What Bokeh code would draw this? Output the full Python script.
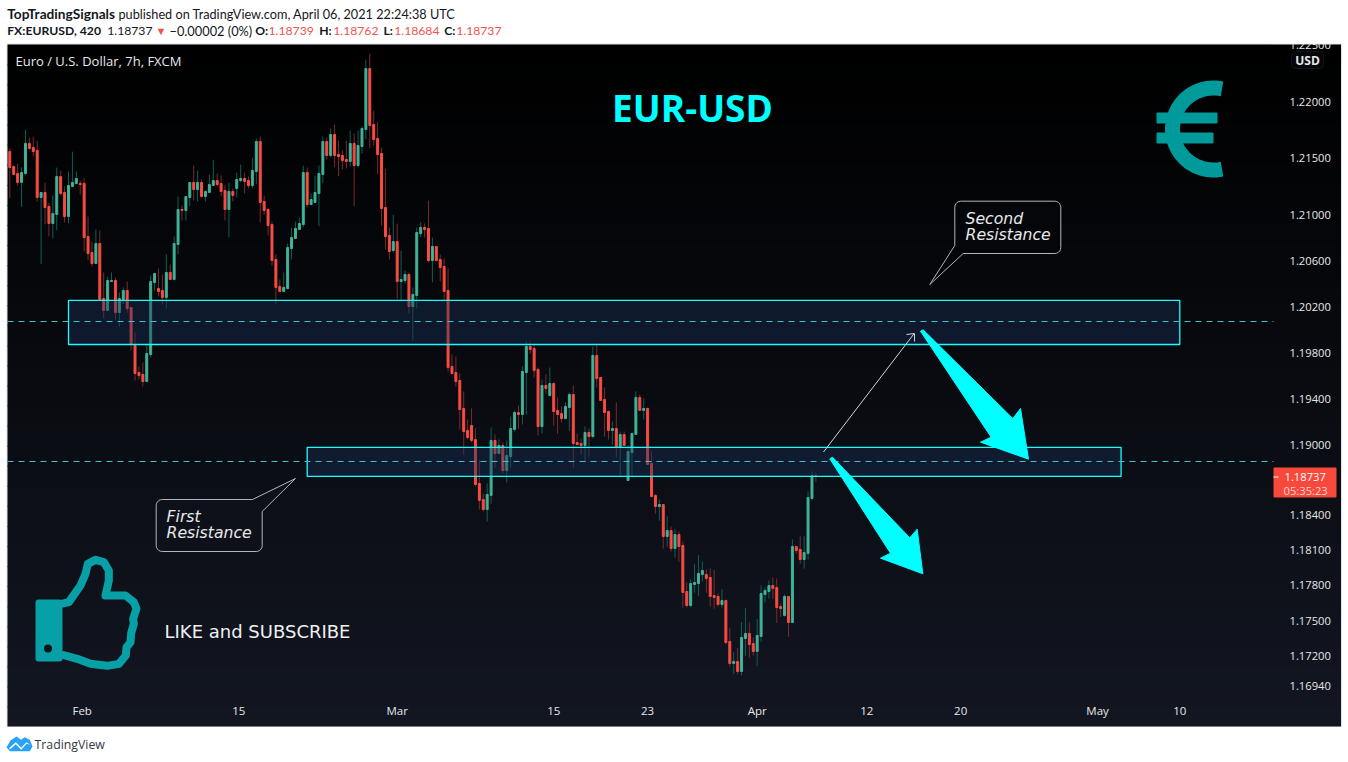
import numpy as np
from bokeh.plotting import figure
from bokeh.embed import file_html
from bokeh.resources import INLINE
from bokeh.models import (Range1d, LinearScale, FixedTicker, NumeralTickFormatter, Label, BoxAnnotation,
                          PolyAnnotation, ColumnDataSource)

# EUR/USD 7h candles; prices in points above 1.00000 (21559 = 1.21559)
opens = [21559,21427,21366,21287,21366,21630,21594,21568,21155,21199,21076,20927,21006,21339,21199,20988,21251,21278,21278,21278,20813,20673,20577,20752,20272,20168,20420,20429,20150,20263,20342,20194,19863,19629,19612,19551,19785,20411,20359,20342,20281,20499,20438,20743,21050,21041,21155,21287,21225,
 21287,21164,21199,21260,21304,21278,21217,21050,21208,21234,21304,21322,21304,
 21260,21383,21647,21120,21050,20918,20612,20377,20333,20359,20708,20796,20874,20918,21374,21093,21111,21190,21357,21647,21524,21709,21533,21524,21489,21471,21630,21436,21603,21753,22292,21797,21674,21541,21067,20822,20691,20769,20420,20429,20481,20202,20298,20839,20892,20883,20603,20726,20612,20551,20342,19681,19629,19560,19318,19128,19171,19050,18672,18534,18448,18569,19042,18930,18999,18783,18904,19137,19283,19266,19629,19855,19837,19655,19162,19517,19430,19534,19301,19275,19231,19326,19439,19024,19016,18999,19111,19076,19777,19586,19396,19292,19128,19145,18981,19093,18697,18938,19093,19413,19301,19318,18844,18569,18474,18491,18217,18268,18114,18234,18140,17747,17628,17807,17815,17892,17892,17867,17713,17705,17636,17670,17322,17135,17152,17067,17347,17390,17305,17237,17364,17722,17747,17798,17781,17619,17543,17705,17483,18131,18106,18020,18072,18543,18739]
closes = [21418,21357,21287,21374,21630,21585,21559,21155,21199,21067,20927,21015,21339,21190,20988,21260,21287,21322,21269,20804,20665,20577,20752,20263,20168,20429,20429,20150,20272,20342,20185,19872,19621,19603,19551,19794,20420,20490,20333,20281,20499,20438,20752,21050,21041,21164,21287,21225,21287,
 21164,21208,21269,21304,21269,21208,21050,21208,21173,21313,21322,21296,21260,
 21392,21647,21111,21041,20909,20603,20368,20333,20368,20717,20804,20883,20927,21374,21093,21137,21199,21366,21647,21524,21709,21524,21515,21480,21471,21630,21436,21612,21762,22292,21788,21665,21533,21058,20813,20682,20769,20420,20438,20481,20202,20307,20848,20892,20874,20603,20726,20603,20542,20333,19673,19621,19551,19309,19119,19068,19042,18663,18526,18448,18577,19042,18930,18999,18783,18912,19145,19283,19266,19638,19855,19829,19647,19162,19517,19491,19534,19292,19266,19231,19335,19439,19016,19007,18999,19111,19076,19777,19577,19387,19283,19128,19145,18981,19093,18999,18947,19102,19413,19301,19318,18835,18560,18474,18491,18217,18268,18114,18234,18131,17739,17628,17815,17824,17901,17926,17858,17705,17696,17636,17670,17313,17135,17152,17067,17356,17390,17296,17237,17373,17730,17756,17798,17773,17611,17602,17705,17483,18131,18097,18020,18080,18551,18740,18737]
wick_up = [29,9,87,46,122,52,96,87,0,87,32,157,78,52,52,122,270,61,26,44,174,96,122,113,226,35,70,26,52,26,78,0,113,52,104,78,52,0,174,139,157,70,61,113,35,0,0,148,104,
 26,9,87,183,61,70,44,78,26,61,122,52,35,113,26,44,52,9,26,44,61,131,35,87,61,52,61,44,52,148,70,44,35,52,87,122,44,165,113,87,131,17,78,131,122,148,52,339,70,235,157,252,35,17,61,44,44,35,244,78,0,44,70,191,
 104,139,61,148,96,148,96,200,52,96,113,52,52,26,131,104,17,61,44,44,44,44,17,52,96,139,9,113,61,35,17,78,78,44,52,35,78,104,0,104,9,61,226,26,26,52,9,52,26,87,9,
 104,9,44,0,122,35,44,26,35,78,35,157,157,78,44,78,217,26,96,9,113,78,113,131,217,96,52,139,70,26,44,70,78,26,17,0,61,0,113,139,52,35,23]
wick_dn = [267,9,26,215,17,9,44,35,583,148,113,131,139,17,52,61,0,9,87,122,61,26,0,9,70,0,0,61,122,38,35,52,61,35,44,0,26,70,44,61,96,0,9,87,87,87,78,96,104,
 9,44,0,0,17,44,96,244,52,78,17,104,26,26,113,174,35,87,44,148,0,0,9,96,0,0,26,26,0,0,287,78,35,17,104,174,78,61,44,357,17,61,87,200,52,174,148,113,70,17,148,165,26,61,296,113,35,70,17,191,9,122,78,35,
 9,44,174,200,17,17,17,78,17,104,70,122,0,26,104,96,17,122,87,365,35,61,78,61,44,9,122,165,35,0,200,209,9,78,148,174,17,78,0,209,78,122,87,252,0,0,200,0,0,78,0,
 9,61,122,104,87,26,78,131,131,17,17,70,104,61,122,87,96,17,26,17,26,87,26,35,148,113,35,122,44,70,61,87,131,70,9,122,0,26,35,78,52,17,53]
bar_index = list(range(len(opens)))

price_ticks = [1.225,1.22,1.215,1.21,1.206,1.202,1.198,1.194,1.19,1.184,1.181,1.178,1.175,1.172,1.1694]
date_ticks = [18.5,58.5,99,139,163,191,219,243,278,299]
date_labels = ["Feb","15","Mar","15","23","Apr","12","20","May","10"]
zone_high = [1.20255,1.18982]; zone_low = [1.19872,1.18732]; zone_start = [15,76]; zone_end = [299,284]
level_prices = [1.20072,1.18861]

CW, CH = 1342, 754

o = 1 + np.array(opens)/1e5
c = 1 + np.array(closes)/1e5
h = np.maximum(o,c) + np.array(wick_up)/1e5
l = np.minimum(o,c) - np.array(wick_dn)/1e5

xi = lambda x: (x-9.3)/3.913
pr = lambda y: 1.22*np.exp(-(y-101)/13810)

p = figure(width=CW, height=CH, frame_width=CW, frame_height=CH,
           min_border_left=0, min_border_right=0, min_border_top=0, min_border_bottom=0,
           x_range=Range1d(xi(0),xi(CW)), y_range=Range1d(pr(CH),pr(0)), y_axis_type="log", y_axis_location="right",
           output_backend="svg", toolbar_location=None, background_fill_color="white",
           border_fill_color="white", outline_line_color=None, margin=(0,0,0,0))
p.grid.visible = False
p.extra_x_ranges = {"px": Range1d(0,CW)}
p.extra_y_ranges = {"px": Range1d(CH,0)}
p.extra_x_scales = {"px": LinearScale()}
p.extra_y_scales = {"px": LinearScale()}

# gradient background, spans plot and axis panels
TOP, BOT = np.array([0,0,0]), np.array([19,23,34])
n = 34
edges = np.linspace(44,726,n+1)
U = dict(left_units="canvas",right_units="canvas",top_units="canvas",bottom_units="canvas")
p.add_layout(BoxAnnotation(left=6,right=1341.5,top=43,bottom=726.5,fill_color="#e0e3eb",fill_alpha=1,line_color=None,level="underlay",**U))
for k in range(n):
    col = TOP+(BOT-TOP)*(k+.5)/n
    p.add_layout(BoxAnnotation(left=7,right=1340.5,top=edges[k],bottom=edges[k+1]+1 if k<n-1 else edges[k+1],
        fill_color="#%02x%02x%02x"%tuple(int(v) for v in col),fill_alpha=1,line_color=None,level="underlay",**U))

up = c>=o
red_w, grn_w = "#7a2b2b", "#0f5f58"
s = ColumnDataSource(dict(x=bar_index,h=h,l=l,t=np.maximum(o,c),b=np.minimum(o,c),
    wc=[grn_w if u else red_w for u in up],
    fc=["#4bb386" if u else "#f94c44" for u in up],
    lc=["#3cb3a0" if u else "#f94c44" for u in up]))
p.segment("x","h","x","l",source=s,line_color="wc",line_width=1)
p.vbar("x",width=0.5,top="t",bottom="b",source=s,fill_color="fc",line_color="lc",line_width=1)

# resistance zones and their dashed levels
p.quad(left=zone_start,right=zone_end,top=zone_high,bottom=zone_low,fill_color="#183058",fill_alpha=0.42,line_color="#19ffff",line_width=1.3)
for lv in level_prices:
    p.line([xi(7),xi(1273)],[lv,lv],line_color="#43c3d2",line_width=1,line_dash="6 5")

kw = dict(x_range_name="px",y_range_name="px")
# big arrows
for pts in ([(88,805),(96,800),(328,1042),(350,1016),(367,1150),(240,1103),(270,1088)],
            [(360,422),(368,418),(637,684),(660,654),(684,806),(540,755),(572,740)]):
    p.patch([800+a/3 for a,b in pts],[190+b/3 for a,b in pts],fill_color="#00ffff",line_color="#00ffff",line_width=1,**kw)
# thin arrow
p.line([823,913.3],[451.5,333.5],line_color="#d1d4dc",line_width=1,**kw)
p.line([906,914,914],[334,333,341],line_color="#d1d4dc",line_width=1,**kw)

def callout(x0,x1,y0,y1,r):
    pts=[]
    for cx,cy,a0 in ((x1-r,y0+r,-90),(x1-r,y1-r,0),(x0+r,y1-r,90),(x0+r,y0+r,180)):
        for t in np.radians(np.linspace(a0,a0+90,6)):
            pts.append((cx+r*np.cos(t),cy+r*np.sin(t)))
    return pts
# Second Resistance callout (pointer at bottom-left)
cb = callout(954.3,1060.3,200.7,253,6)
cb = cb[:12]+[(962.7,253),(929.3,284),(954.3,245)]+cb[18:]
p.patch([a for a,b in cb],[b for a,b in cb],fill_color="#050609",line_color="#b2b5be",line_width=1,**kw)
# First Resistance callout (pointer at top-right)
cf = callout(155.7,261.7,499,551,6)
cf = [(252,499),(295,478),(261.7,511)]+cf[6:-1]+[(161.7,499)]
p.patch([a for a,b in cf],[b for a,b in cf],fill_color="#0e1119",line_color="#b2b5be",line_width=1,**kw)

# euro icon
tt = np.radians(np.linspace(78,282,50))
p.line(1213+41*np.cos(tt),128.5-41*np.sin(tt),line_color="#009a9a",line_width=15,line_cap="butt",**kw)
p.quad(left=[1157,1157],right=[1216,1212],top=[113,133],bottom=[122,142],fill_color="#009a9a",line_color="#009a9a",line_width=2,line_join="round",**kw)

# thumb icon
th = [(183,190),(205,185),(240,135),(255,100),(262,70),(285,58),(310,65),(325,90),(325,120),(315,165),(375,165),(400,185),(408,205),(398,235),(400,250),(392,278),(390,305),(378,320),(376,345),(355,370),(320,376),(270,370),(230,355),(183,342)]
p.line([a/3 for a,b in th],[540+b/3 for a,b in th],line_color="#07a0a6",line_width=8,line_join="round",**kw)
p.quad(left=38,right=59,top=602,bottom=658,fill_color="#07a0a6",line_color="#07a0a6",line_width=6,line_join="round",**kw)
p.circle([47.5],[648],radius=4,fill_color="#10131c",line_color=None,**kw)

# axes, fixed inside the page-sized frame
ya = p.yaxis[0]
ya.fixed_location = xi(1279)
ya.ticker = FixedTicker(ticks=price_ticks); ya.formatter = NumeralTickFormatter(format="0.00000")
ya.axis_line_color=None; ya.major_tick_line_color=None; ya.minor_tick_line_color=None
ya.major_label_text_color="#e6e7ea"; ya.major_label_text_font="Open Sans"; ya.major_label_text_font_size="11.2px"
ya.major_label_standoff=4
xax = p.xaxis[0]
xax.fixed_location = pr(690)
xax.ticker = FixedTicker(ticks=date_ticks); xax.major_label_overrides = dict(zip(date_ticks,date_labels))
xax.axis_line_color=None; xax.major_tick_line_color=None; xax.minor_tick_line_color=None
xax.major_label_text_color="#e6e7ea"; xax.major_label_text_font="Open Sans"; xax.major_label_text_font_size="11.5px"
xax.major_label_standoff=6

def T(x,y,txt,size,color="#131722",font="Lato",style="normal",align="left",level="annotation"):
    p.add_layout(Label(x=x,y=y,x_units="canvas",y_units="canvas",text=txt,text_font=font,text_font_size=f"{size}px",
                       text_color=color,text_font_style=style,text_align=align,text_baseline="middle",level=level))
# clip top tick label
p.add_layout(BoxAnnotation(left=1270,right=1342,top=30,bottom=43,fill_color="white",fill_alpha=1,line_color=None,level="overlay",**U))
RED="#ef5350"
T(6.7,13,"TopTradingSignals",13.7,style="bold")
T(118,13,"published on TradingView.com, April 06, 2021 22:24:38 UTC",12.7)
T(6.7,30,"FX:EURUSD, 420",12.2,style="bold")
T(106.7,30,"1.18737",12.2)
T(155,30,"\u25BC",11,color=RED)
T(169,30,"\u22120.00002 (0%)",12.8)
for x,tx,col,st in ((254.7,"O:","#131722","bold"),(268,"1.18739",RED,"normal"),(318.7,"H:","#131722","bold"),(332.7,"1.18762",RED,"normal"),
                    (383,"L:","#131722","bold"),(393.7,"1.18684",RED,"normal"),(443.7,"C:","#131722","bold"),(455.7,"1.18737",RED,"normal")):
    T(x,30,tx,12.2,color=col,style=st)
T(15,60,"Euro / U.S. Dollar, 7h, FXCM",13,color="#e8e8ea",font="Open Sans")
T(692,107,"EUR-USD",37,color="#00ffff",font="Open Sans",style="bold",align="center")
T(164,631,"LIKE and SUBSCRIBE",18,color="#f0f0f2",font="DejaVu Sans")
T(965,218,"Second",15.7,color="#e8e8ea",font="DejaVu Sans",style="italic")
T(965,234,"Resistance",15.7,color="#e8e8ea",font="DejaVu Sans",style="italic")
T(166,516,"First",15.7,color="#e8e8ea",font="DejaVu Sans",style="italic")
T(166,532,"Resistance",15.7,color="#e8e8ea",font="DejaVu Sans",style="italic")
T(34,744,"TradingView",12.3,color="#333844",font="Open Sans")

# USD badge
p.add_layout(BoxAnnotation(left=1291,right=1323,top=51,bottom=68,fill_color="#05060a",fill_alpha=1,line_color="#363a45",line_width=1,border_radius=4,level="annotation",**U))
T(1307,60,"USD",12,color="#e8e8ea",font="Open Sans",style="bold",align="center")
# last price tag
p.add_layout(BoxAnnotation(left=1273,right=1336,top=467,bottom=497,fill_color="#f6493c",fill_alpha=1,line_color=None,border_radius=1,level="annotation",**U))
p.add_layout(BoxAnnotation(left=1273,right=1278,top=476,bottom=477,fill_color="white",fill_alpha=1,line_color=None,level="annotation",**U))
T(1284,476,"1.18737",11.2,color="#ffffff",font="Open Sans")
T(1283,490,"05:35:23",11.2,color="#ffd3cf",font="Open Sans")

# TradingView logo
logo=[(18,620),(30,600),(48,588),(62,598),(72,590),(88,598),(96,618),(88,632),(28,632)]
p.add_layout(PolyAnnotation(xs=[a/3 for a,b in logo],ys=[540+b/3 for a,b in logo],xs_units="canvas",ys_units="canvas",fill_color="#2aa3f5",fill_alpha=1,line_color=None,level="annotation"))
zig=[(27,622),(46,605),(62,622),(78,605),(88,612),(78,610),(62,628),(46,611),(27,628)]
p.add_layout(PolyAnnotation(xs=[a/3 for a,b in zig],ys=[540+b/3 for a,b in zig],xs_units="canvas",ys_units="canvas",fill_color="#ffffff",fill_alpha=1,line_color=None,level="annotation"))

open("out.html","w").write(file_html(p,INLINE))
